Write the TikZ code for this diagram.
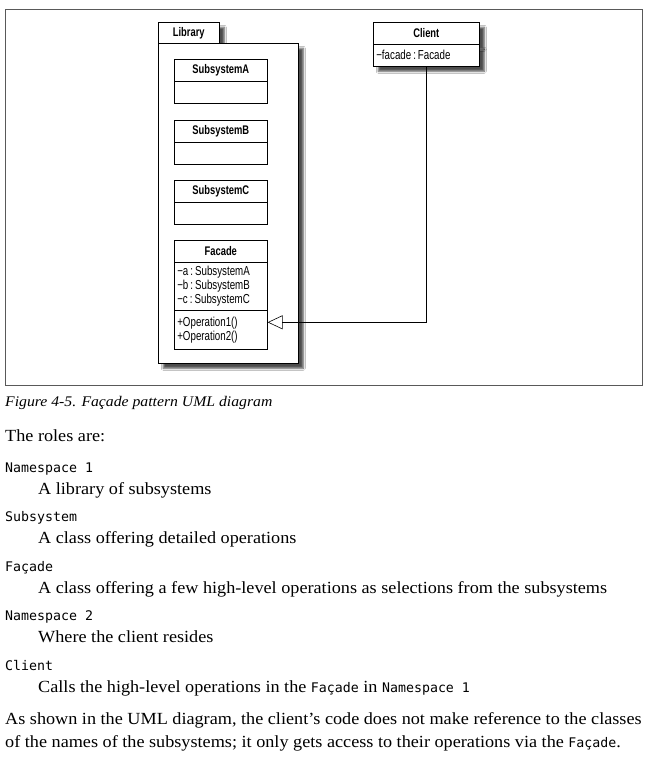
\documentclass[tikz,border=0pt]{standalone}
\usepackage{fontspec}
\setmainfont{Liberation Serif}[FakeStretch=1.07]
\setmonofont{DejaVu Sans Mono}[Scale=0.78]
\newfontfamily\umlfont[FakeStretch=0.75]{Liberation Sans}
\usetikzlibrary{arrows.meta,shadows.blur}
\newcommand\cs{\hspace{2pt}:\hspace{2pt}}
\tikzset{
  umlbox/.style={draw, line width=0.6pt, fill=white, inner sep=0pt, anchor=north west,
    minimum width=93pt, font=\umlfont\fontsize{13}{14}\selectfont},
  umlhead/.style={umlbox, minimum height=22pt, font=\umlfont\bfseries\fontsize{12.5}{14}\selectfont},
  umllist/.style={umlbox, text width=87pt, inner xsep=3pt, align=left},
  shadowed/.style={blur shadow={shadow xshift=5pt, shadow yshift=-5pt, shadow blur radius=2pt, shadow opacity=70}},
  txt/.style={anchor=base west, inner sep=0pt, font=\fontsize{17}{23}\selectfont},
  term/.style={txt, font=\fontsize{17}{23}\selectfont\ttfamily},
}
\begin{document}
\begin{tikzpicture}[x=1pt,y=-1pt]
\useasboundingbox (0,0) rectangle (652,760);
\fill[white] (0,0) rectangle (652,760);
% frame
\node[draw=black!65, line width=0.8pt, anchor=north west, minimum width=637pt, minimum height=376pt, inner sep=0pt] (frame) at (5,9) {};
% Library package
\node[umlhead, shadowed, minimum width=61pt, minimum height=21pt] (libtab) at (158,22) {Library};
\node[umlbox, shadowed, minimum width=140pt, minimum height=320pt] (lib) at (158,43) {};
% Subsystems
\node[umlhead] (sah) at (174,59) {SubsystemA};
\node[umlbox, minimum height=22pt] (sab) at (174,81) {};
\node[umlhead] (sbh) at (174,120) {SubsystemB};
\node[umlbox, minimum height=22pt] (sbb) at (174,142) {};
\node[umlhead] (sch) at (174,180) {SubsystemC};
\node[umlbox, minimum height=22pt] (scb) at (174,202) {};
% Facade
\node[umlhead] (fh) at (174,240) {Facade};
\node[umllist, minimum height=48pt] (fattr) at (174,262) {−a\cs SubsystemA\\−b\cs SubsystemB\\−c\cs SubsystemC};
\node[umllist, minimum height=39pt] (fops) at (174,310) {+Operation1()\\+Operation2()};
% Client
\node[umlhead, shadowed, minimum width=106pt] (ch) at (373,22) {Client};
\node[umllist, shadowed, minimum width=106pt, text width=100pt, minimum height=22pt] (cattr) at (373,44) {−facade\cs Facade};
% connector
\draw[line width=0.6pt, -{Triangle[open, length=15pt, width=14pt]}] (cattr.south) |- ([yshift=7.5pt]fops.east);
% caption and text
\node[txt, font=\fontsize{14.7}{18}\selectfont\itshape] (cap) at (5,406) {Figure 4-5. Façade pattern UML diagram};
\node[txt] (roles) at (5,441) {The roles are:};
\node[term] (t1) at (5,472) {Namespace 1};
\node[txt] (d1) at (38,494) {A library of subsystems};
\node[term] (t2) at (5,521) {Subsystem};
\node[txt] (d2) at (38,543) {A class offering detailed operations};
\node[term] (t3) at (5,571) {Façade};
\node[txt] (d3) at (38,593) {A class offering a few high-level operations as selections from the subsystems};
\node[term] (t4) at (5,620) {Namespace 2};
\node[txt] (d4) at (38,642) {Where the client resides};
\node[term] (t5) at (5,670) {Client};
\node[txt] (d5) at (38,692) {Calls the high-level operations in the \texttt{Façade} in \texttt{Namespace 1}};
\node[txt] (p1) at (5,724) {As shown in the UML diagram, the client’s code does not make reference to the classes};
\node[txt] (p2) at (5,747) {of the names of the subsystems; it only gets access to their operations via the \texttt{Façade}.};
\end{tikzpicture}
\end{document}
